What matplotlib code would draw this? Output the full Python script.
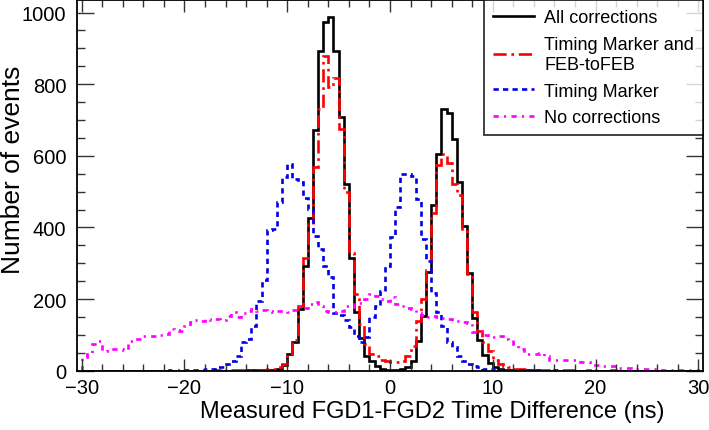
import matplotlib
matplotlib.use("Agg")
import matplotlib.pyplot as plt
import numpy as np
from matplotlib.ticker import MultipleLocator

plt.rcParams["font.family"] = ["Liberation Sans", "DejaVu Sans"]

# 0.5 ns bins from -30 to 30 ns
BIN_EDGES = np.arange(-30.0, 30.0 + 0.25, 0.5)

# one row per 5 ns (10 bins)
all_corrections = [
    0, 0, 0, 0, 0, 0, 0, 0, 0, 0,
    0, 0, 0, 0, 0, 0, 0, 0, 0, 0,
    0, 0, 0, 0, 0, 0, 0, 0, 0, 0,
    0, 0, 1, 1, 1, 2, 2, 3, 5, 16,
    47, 79, 172, 291, 425, 671, 892, 973, 988, 892,
    708, 522, 314, 165, 90, 42, 28, 12, 5, 3,
    2, 3, 5, 9, 28, 84, 153, 276, 462, 604,
    731, 720, 648, 527, 404, 274, 148, 85, 43, 22,
    9, 5, 3, 2, 2, 1, 1, 1, 0, 0,
    0, 0, 0, 0, 0, 0, 0, 0, 0, 0,
    0, 0, 0, 0, 0, 0, 0, 0, 0, 0,
    0, 0, 0, 0, 0, 0, 0, 0, 0, 0,
]

marker_and_feb = [
    0, 0, 0, 0, 0, 0, 0, 0, 0, 0,
    0, 0, 0, 0, 0, 0, 0, 0, 0, 0,
    0, 0, 0, 0, 0, 0, 1, 0, 1, 1,
    1, 1, 2, 2, 2, 3, 4, 6, 10, 20,
    40, 85, 180, 316, 409, 570, 730, 880, 791, 817,
    674, 500, 330, 215, 130, 75, 48, 42, 30, 27,
    25, 24, 26, 40, 70, 140, 200, 280, 440, 575,
    605, 580, 520, 490, 390, 270, 165, 110, 80, 55,
    30, 20, 12, 9, 6, 5, 4, 3, 3, 2,
    2, 2, 1, 1, 1, 1, 1, 0, 1, 0,
    1, 0, 0, 1, 0, 0, 0, 0, 0, 0,
    0, 0, 0, 0, 0, 0, 0, 0, 0, 0,
]

timing_marker = [
    0, 0, 0, 0, 0, 0, 0, 0, 0, 0,
    0, 0, 0, 0, 0, 0, 0, 1, 0, 1,
    1, 2, 2, 3, 5, 5, 10, 10, 19, 28,
    42, 80, 88, 126, 195, 253, 393, 395, 472, 540,
    577, 535, 527, 481, 451, 377, 340, 293, 263, 160,
    155, 142, 122, 98, 80, 95, 150, 180, 223, 293,
    372, 456, 549, 549, 545, 479, 367, 305, 216, 164,
    126, 80, 66, 42, 28, 19, 12, 9, 6, 5,
    3, 3, 2, 2, 1, 1, 1, 0, 1, 0,
    0, 0, 1, 0, 0, 0, 0, 0, 0, 0,
    0, 0, 0, 0, 0, 0, 0, 0, 0, 0,
    0, 0, 0, 0, 0, 0, 0, 0, 0, 0,
]

no_corrections = [
    37, 47, 75, 84, 56, 61, 61, 60, 58, 84,
    88, 88, 98, 98, 98, 100, 102, 116, 114, 110,
    126, 135, 142, 140, 143, 142, 145, 142, 153, 165,
    150, 160, 167, 172, 168, 170, 167, 165, 168, 166,
    164, 170, 181, 175, 185, 193, 180, 167, 164, 163,
    168, 181, 178, 186, 190, 200, 214, 209, 200, 195,
    205, 185, 181, 175, 172, 160, 155, 150, 152, 150,
    147, 145, 139, 138, 137, 132, 107, 112, 100, 93,
    95, 98, 88, 85, 74, 61, 47, 47, 47, 50,
    42, 30, 30, 30, 30, 30, 30, 23, 23, 16,
    16, 14, 13, 13, 7, 7, 7, 6, 5, 5,
    5, 5, 3, 3, 3, 3, 3, 2, 3, 3,
]

SERIES = [
    ("All corrections", all_corrections, "black", "-"),
    ("Timing Marker and\nFEB-toFEB", marker_and_feb, "#ff0000", (0, (5, 1.8, 1, 1.8))),
    ("Timing Marker", timing_marker, "#0000e6", (0, (2.0, 1.6))),
    ("No corrections", no_corrections, "#ff00ff", (0, (2, 2, 0.8, 2))),
]


def main():
    fig = plt.figure(figsize=(7.09, 4.31), dpi=100)
    ax = fig.add_axes([0.109, 0.1376, 0.883, 0.860])

    handles = []
    for label, values, color, style in SERIES:
        h = ax.stairs(values, BIN_EDGES, color=color, linestyle=style,
                      linewidth=1.9, label=label)
        handles.append(h)

    ax.set_xlim(-30.43, 30.49)
    ax.set_ylim(0, 1035)

    ax.xaxis.set_major_locator(MultipleLocator(10))
    ax.xaxis.set_minor_locator(MultipleLocator(2))
    ax.yaxis.set_major_locator(MultipleLocator(200))
    ax.yaxis.set_minor_locator(MultipleLocator(50))

    ax.tick_params(which="both", direction="in", top=True, right=True,
                   labelsize=14.5, width=1.0, color="#333333")
    ax.tick_params(axis="x", which="major", length=8.5, pad=5)
    ax.tick_params(axis="x", which="minor", length=5)
    ax.tick_params(axis="y", which="major", length=12, pad=8)
    ax.tick_params(axis="y", which="minor", length=5.5)
    for spine in ax.spines.values():
        spine.set_linewidth(1.3)

    ax.set_xlabel("Measured FGD1-FGD2 Time Difference (ns)", fontsize=17)
    ax.xaxis.set_label_coords(0.567, -0.078)
    ax.set_ylabel("Number of events", fontsize=19)
    ax.yaxis.set_label_coords(-0.084, 0.545)

    leg = ax.legend(handles=handles, loc="upper right", bbox_to_anchor=(1.0, 1.0),
                    borderaxespad=0, fontsize=13, fancybox=False,
                    handlelength=2.3, handletextpad=0.55, labelspacing=0.55,
                    borderpad=0.5)
    leg.get_frame().set_edgecolor("black")
    leg.get_frame().set_linewidth(1.3)

    fig.savefig("out.png", dpi=100)


if __name__ == "__main__":
    main()
